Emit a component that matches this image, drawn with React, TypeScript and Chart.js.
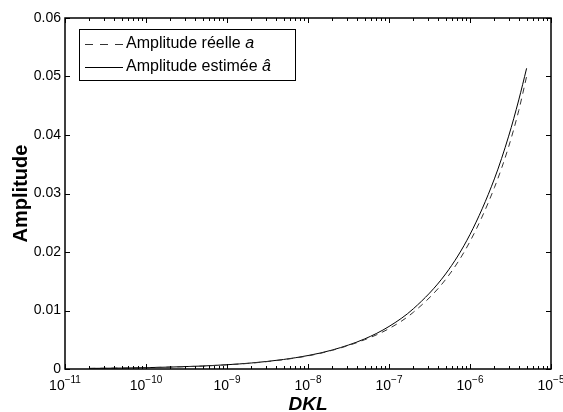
import React, { useEffect, useRef } from "react";
import { Chart, registerables } from "chart.js";

Chart.register(...registerables);

// DKL values (x axis, log scale)
const dklValues = [2e-11, 5e-11, 1e-10, 2e-10, 5e-10, 1e-9, 2e-9, 5e-9, 1e-8, 2e-8, 5e-8, 1e-7, 2e-7, 5e-7, 1e-6, 2e-6, 3e-6, 4e-6, 5e-6];
// Amplitude réelle a (dashed)
const amplitudeReelle = [0.0001, 0.00016, 0.00023, 0.00033, 0.0005, 0.00072, 0.001, 0.0016, 0.00224, 0.0032, 0.0050, 0.0069, 0.0097, 0.0153, 0.0218, 0.0310, 0.0380, 0.0442, 0.0500];
// Amplitude estimée â (solid)
const amplitudeEstimee = [0.0001, 0.00016, 0.00023, 0.00033, 0.00051, 0.00073, 0.00103, 0.00163, 0.0023, 0.00325, 0.00514, 0.00727, 0.0103, 0.01625, 0.023, 0.0325, 0.0398, 0.046, 0.0514];

const xTickExponents = [-11, -10, -9, -8, -7, -6, -5];
const yTickValues = [0, 0.01, 0.02, 0.03, 0.04, 0.05, 0.06];
const yTickLabels = ["0", "0.01", "0.02", "0.03", "0.04", "0.05", "0.06"];

const legendLabels = [
  { text: "Amplitude réelle ", italic: "a", dash: [8, 7] },
  { text: "Amplitude estimée ", italic: "â", dash: [] as number[] },
];

const FONT = '"Liberation Sans", Arial, Helvetica, sans-serif';

const matlabPlugin = {
  id: "matlabAxes",
  afterDraw(chart: any) {
    const { ctx, chartArea: a, scales } = chart;
    const xs = scales.x;
    const ys = scales.y;
    ctx.save();
    ctx.strokeStyle = "#000";
    ctx.fillStyle = "#000";
    ctx.lineWidth = 1;
    ctx.setLineDash([]);

    // ticks
    ctx.beginPath();
    xTickExponents.forEach((e, i) => {
      const px = Math.round(xs.getPixelForValue(Math.pow(10, e))) + 0.5;
      ctx.moveTo(px, a.bottom);
      ctx.lineTo(px, a.bottom - 5);
      ctx.moveTo(px, a.top);
      ctx.lineTo(px, a.top + 5);
      if (i < xTickExponents.length - 1) {
        for (let m = 2; m <= 9; m++) {
          const mx = Math.round(xs.getPixelForValue(m * Math.pow(10, e))) + 0.5;
          ctx.moveTo(mx, a.bottom);
          ctx.lineTo(mx, a.bottom - 3);
          ctx.moveTo(mx, a.top);
          ctx.lineTo(mx, a.top + 3);
        }
      }
    });
    yTickValues.forEach((v) => {
      const py = Math.round(ys.getPixelForValue(v)) + 0.5;
      ctx.moveTo(a.left, py);
      ctx.lineTo(a.left + 5, py);
      ctx.moveTo(a.right, py);
      ctx.lineTo(a.right - 5, py);
    });
    ctx.stroke();

    // box
    ctx.lineWidth = 1.5;
    ctx.strokeRect(a.left, a.top, a.right - a.left, a.bottom - a.top);

    // y tick labels
    ctx.font = `14px ${FONT}`;
    ctx.textAlign = "right";
    ctx.textBaseline = "middle";
    yTickValues.forEach((v, i) => {
      const py = ys.getPixelForValue(v);
      ctx.fillText(yTickLabels[i], a.left - 4, py);
    });

    // x tick labels 10^e
    ctx.textBaseline = "alphabetic";
    ctx.textAlign = "left";
    xTickExponents.forEach((e) => {
      const px = xs.getPixelForValue(Math.pow(10, e));
      const base = "10";
      const exp = "\u2212" + String(Math.abs(e));
      ctx.font = `14px ${FONT}`;
      const wb = ctx.measureText(base).width;
      ctx.font = `10px ${FONT}`;
      const we = ctx.measureText(exp).width;
      const start = px - (wb + we) / 2;
      ctx.font = `14px ${FONT}`;
      ctx.fillText(base, start, a.bottom + 21);
      ctx.font = `10px ${FONT}`;
      ctx.fillText(exp, start + wb, a.bottom + 14);
    });

    // axis titles
    ctx.font = `bold italic 19px ${FONT}`;
    ctx.textAlign = "center";
    ctx.fillText("DKL", (a.left + a.right) / 2, a.bottom + 41);

    ctx.save();
    ctx.translate(21, (a.top + a.bottom) / 2);
    ctx.rotate(-Math.PI / 2);
    ctx.font = `bold 20px ${FONT}`;
    ctx.textAlign = "center";
    ctx.textBaseline = "middle";
    ctx.fillText("Amplitude", 0, 0);
    ctx.restore();

    // legend
    const lx = a.left + 14;
    const ly = a.top + 11;
    const lw = 216;
    const lh = 51;
    ctx.fillStyle = "#fff";
    ctx.fillRect(lx, ly, lw, lh);
    ctx.lineWidth = 1;
    ctx.strokeStyle = "#000";
    ctx.strokeRect(lx + 0.5, ly + 0.5, lw, lh);
    ctx.fillStyle = "#000";
    legendLabels.forEach((item, i) => {
      const cy = ly + 15 + i * 23;
      ctx.beginPath();
      ctx.setLineDash(item.dash);
      ctx.strokeStyle = item.dash.length ? "#333" : "#000";
      ctx.moveTo(lx + 6, cy + 0.5);
      ctx.lineTo(lx + 44, cy + 0.5);
      ctx.stroke();
      ctx.setLineDash([]);
      ctx.font = `16px ${FONT}`;
      ctx.textAlign = "left";
      ctx.textBaseline = "middle";
      const tx = lx + 47;
      ctx.fillText(item.text, tx, cy);
      const w = ctx.measureText(item.text).width;
      ctx.font = `italic 16px ${FONT}`;
      ctx.fillText(item.italic, tx + w, cy);
    });

    ctx.restore();
  },
};

export default function App() {
  const canvasRef = useRef<HTMLCanvasElement | null>(null);

  useEffect(() => {
    if (!canvasRef.current) return;
    const chart = new Chart(canvasRef.current, {
      type: "line",
      data: {
        datasets: [
          {
            label: "Amplitude réelle a",
            data: dklValues.map((x, i) => ({ x, y: amplitudeReelle[i] })),
            borderColor: "#333",
            borderWidth: 1,
            borderDash: [6, 5],
            pointRadius: 0,
            cubicInterpolationMode: "monotone",
            fill: false,
          },
          {
            label: "Amplitude estimée â",
            data: dklValues.map((x, i) => ({ x, y: amplitudeEstimee[i] })),
            borderColor: "#000",
            borderWidth: 1,
            pointRadius: 0,
            cubicInterpolationMode: "monotone",
            fill: false,
          },
        ],
      },
      options: {
        animation: false,
        responsive: false,
        layout: { padding: { left: 65, right: 12, top: 18, bottom: 43 } },
        scales: {
          x: { type: "logarithmic", min: 1e-11, max: 1e-5, display: false },
          y: { type: "linear", min: 0, max: 0.06, display: false },
        },
        plugins: {
          legend: { display: false },
          tooltip: { enabled: false },
        },
      },
      plugins: [matlabPlugin],
    } as any);
    return () => chart.destroy();
  }, []);

  return (
    <div style={{ position: "fixed", left: 0, top: 0, width: 563, height: 412, background: "#fff" }}>
      <canvas ref={canvasRef} width={563} height={412} style={{ display: "block" }} />
    </div>
  );
}
